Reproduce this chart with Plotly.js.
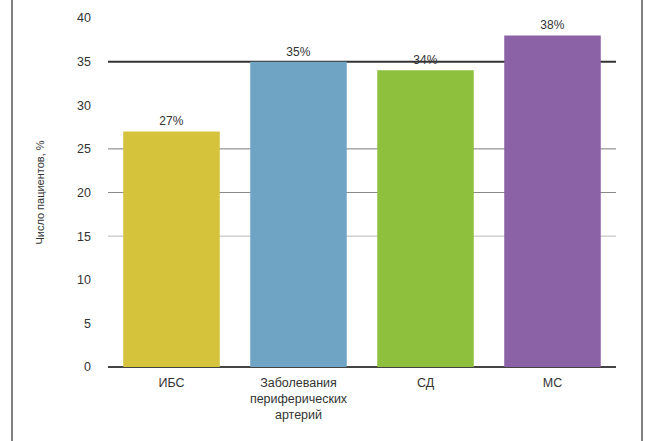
<!DOCTYPE html>
<html>
<head>
<meta charset="utf-8">
<script src="https://cdn.plot.ly/plotly-3.0.1.min.js"></script>
<style>
  html, body { margin: 0; padding: 0; background: #fff; }
  #wrap { position: relative; width: 646px; height: 441px; overflow: hidden; }
  #chart { width: 646px; height: 441px; }
  .frame { position: absolute; top: 0; width: 2px; height: 441px; background: #808080; }
</style>
</head>
<body>
<div id="wrap">
  <div id="chart"></div>
  <div class="frame" style="left:11px"></div>
  <div class="frame" style="left:641px"></div>
</div>
<script>
const categories = ['ИБС', 'Заболевания<br>периферических<br>артерий', 'СД', 'МС'];
const values = [27, 35, 34, 38];
const barColors = ['#d4c33b', '#6fa4c4', '#8ebf3d', '#8c62a6'];
const yTicks = [0, 5, 10, 15, 20, 25, 30, 35, 40];
const gridLevels = [15, 20, 25, 35];
const gridColors = ['#b8b8b8', '#8a8a8a', '#7a7a7a', '#333333'];
const gridWidths = [1, 1, 1, 2];

const trace = {
  type: 'bar',
  x: categories,
  y: values,
  marker: { color: barColors },
  text: values.map(v => v + '%'),
  textposition: 'outside',
  cliponaxis: false,
  textfont: { family: 'Liberation Sans, Arial, sans-serif', size: 12, color: '#333' },
  hoverinfo: 'none'
};

const shapes = gridLevels.map((lv, i) => ({
  type: 'line', xref: 'paper', yref: 'y', x0: 0, x1: 1, y0: lv, y1: lv,
  line: { color: gridColors[i], width: gridWidths[i] }, layer: 'below'
}));

const layout = {
  width: 646, height: 441,
  margin: { l: 108, r: 30, t: 18, b: 74 },
  paper_bgcolor: '#fff', plot_bgcolor: '#fff',
  bargap: 0.24,
  showlegend: false,
  font: { family: 'Liberation Sans, Arial, sans-serif', size: 12, color: '#333' },
  xaxis: {
    type: 'category',
    tickfont: { size: 12.5, color: '#333' },
    showgrid: false, showline: false, ticks: '',
    zeroline: false,
    ticklabelstandoff: 6
  },
  yaxis: {
    range: [0, 40],
    tickvals: yTicks,
    ticktext: yTicks.map(String),
    showgrid: false,
    zeroline: true, zerolinecolor: '#444', zerolinewidth: 2,
    showline: false, ticks: '',
    ticklabelstandoff: 16,
    tickfont: { size: 12.5, color: '#333' },
    title: { text: 'Число пациентов, %', font: { size: 11, color: '#333' }, standoff: 30 }
  },
  shapes: shapes
};

Plotly.newPlot('chart', [trace], layout, { staticPlot: true, displayModeBar: false });
</script>
</body>
</html>
